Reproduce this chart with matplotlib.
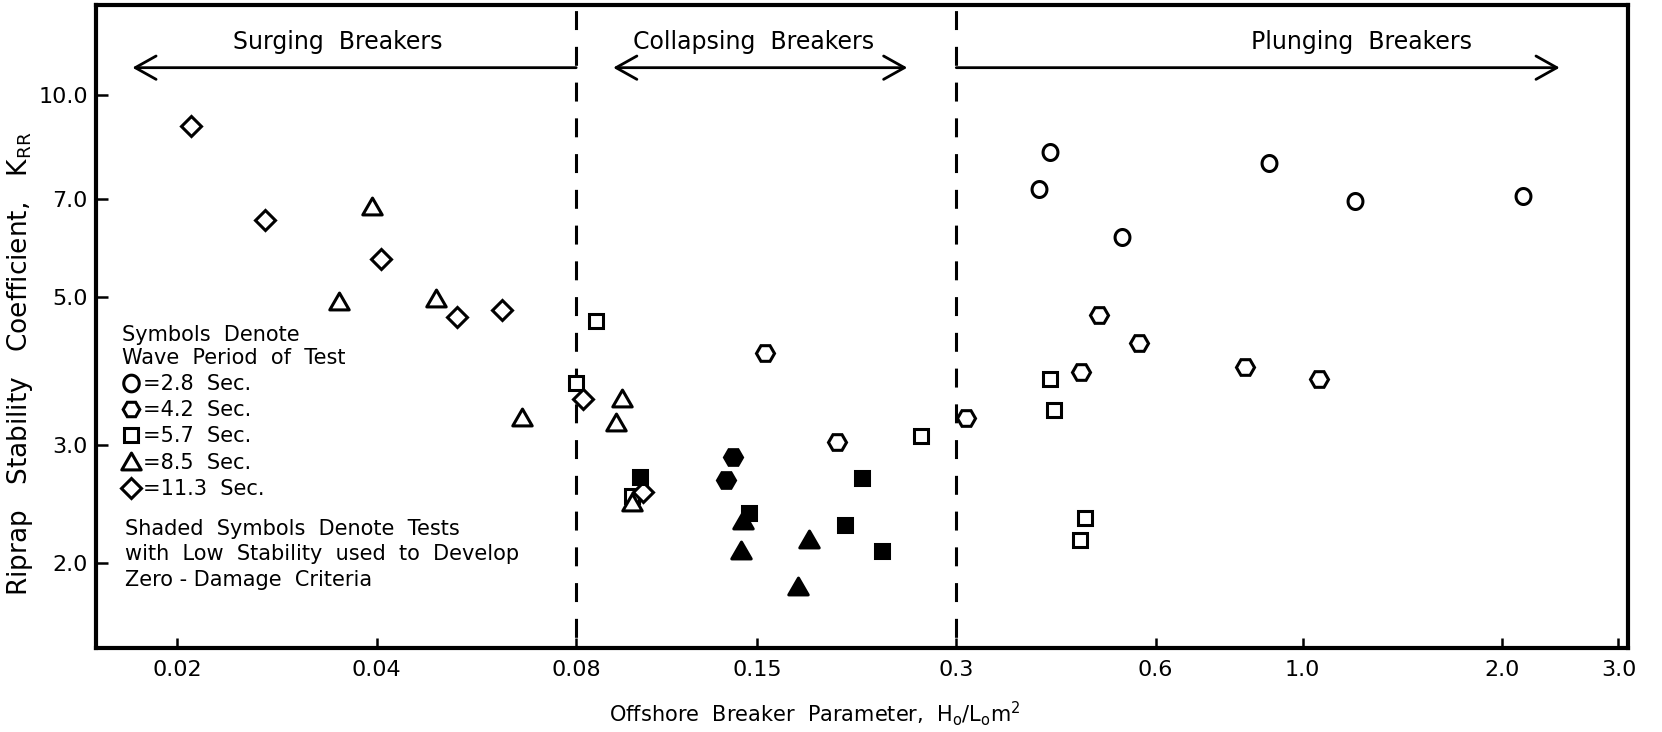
import numpy as np
import matplotlib.pyplot as plt
from matplotlib.path import Path
from matplotlib.lines import Line2D

plt.rcParams['font.family'] = 'DejaVu Sans'

# Riprap stability coefficient vs offshore breaker parameter, by wave period
# T = 2.8 s (ovals)
x_28 = [0.400, 0.415, 0.533, 0.890, 1.20, 2.15]
k_28 = [7.25, 8.24, 6.15, 7.92, 6.94, 7.07]

# T = 4.2 s (hexagons)
x_42 = [0.154, 0.198, 0.310, 0.463, 0.493, 0.566, 0.818, 1.06]
k_42 = [4.12, 3.03, 3.29, 3.86, 4.70, 4.27, 3.93, 3.76]
x_42_low = [0.1346, 0.138]
k_42_low = [2.66, 2.88]

# T = 5.7 s (squares)
x_57 = [0.080, 0.0858, 0.0972, 0.265, 0.416, 0.421, 0.462, 0.470]
k_57 = [3.72, 4.60, 2.52, 3.10, 3.77, 3.38, 2.16, 2.33]
x_57_low = [0.100, 0.146, 0.204, 0.216, 0.2315]
k_57_low = [2.69, 2.375, 2.28, 2.68, 2.08]

# T = 8.5 s (triangles)
x_85 = [0.0351, 0.0393, 0.0492, 0.0663, 0.0920, 0.0938, 0.0970]
k_85 = [4.93, 6.84, 4.98, 3.31, 3.25, 3.53, 2.47]
x_85_low = [0.1418, 0.1428, 0.173, 0.1795]
k_85_low = [2.09, 2.32, 1.846, 2.17]

# T = 11.3 s (diamonds)
x_113 = [0.0210, 0.0271, 0.0406, 0.0529, 0.0618, 0.0818, 0.101]
k_113 = [9.0, 6.50, 5.70, 4.66, 4.77, 3.52, 2.555]

x_ticks = [0.02, 0.04, 0.08, 0.15, 0.3, 0.6, 1.0, 2.0, 3.0]
x_ticklabels = ['0.02', '0.04', '0.08', '0.15', '0.3', '0.6', '1.0', '2.0', '3.0']
y_ticks = [2.0, 3.0, 5.0, 7.0, 10.0]
y_ticklabels = ['2.0', '3.0', '5.0', '7.0', '10.0']

# breaker type limits
limits = [0.08, 0.3]
region_names = ['Surging  Breakers', 'Collapsing  Breakers', 'Plunging  Breakers']
region_text_x = [0.0349, 0.148, 1.227]

# custom marker shapes
t = np.linspace(0, 2 * np.pi, 61)
oval = Path(np.column_stack([0.93 * np.cos(t), np.sin(t)]), closed=True)
tri = Path([(-1, -0.866), (1, -0.866), (0, 0.866), (-1, -0.866)], closed=True)

fig = plt.figure(figsize=(16.62, 7.32), dpi=100)
ax = fig.add_axes([0.0578, 0.1148, 0.9217, 0.8784])
ax.set_xscale('log')
ax.set_yscale('log')
ax.set_xlim(0.01507, 3.1)
ax.set_ylim(1.492, 13.65)

for b in limits:
    ax.axvline(b, color='black', lw=2.2, linestyle=(8.2, (6.2, 5.5)), zorder=1)

mew = 2.2
open_kw = dict(linestyle='none', mec='black', mfc='white', mew=mew, zorder=3)
low_kw = dict(linestyle='none', mec='black', mfc='black', mew=mew, zorder=4)

ax.plot(x_28, k_28, marker=oval, ms=11.5, **open_kw)
ax.plot(x_42, k_42, marker='H', ms=13, **open_kw)
ax.plot(x_57, k_57, marker='s', ms=10, **open_kw)
ax.plot(x_85, k_85, marker=tri, ms=14, **open_kw)
ax.plot(x_113, k_113, marker='D', ms=10, **open_kw)
ax.plot(x_42_low, k_42_low, marker='H', ms=13, **low_kw)
ax.plot(x_85_low, k_85_low, marker=tri, ms=14, **low_kw)
ax.plot(x_57_low, k_57_low, marker='s', ms=10, **low_kw)

# range arrows for each breaker type
arrow_y = 11.0
head = dict(lw=2.0, color='black', shrinkA=0, shrinkB=0, mutation_scale=20)
ax.annotate('', xy=(0.0171, arrow_y), xytext=(limits[0], arrow_y),
            arrowprops=dict(arrowstyle='->,head_length=0.75,head_width=0.42', **head))
ax.annotate('', xy=(0.253, arrow_y), xytext=(0.091, arrow_y),
            arrowprops=dict(arrowstyle='<->,head_length=0.75,head_width=0.42', **head))
ax.annotate('', xy=(2.445, arrow_y), xytext=(limits[1], arrow_y),
            arrowprops=dict(arrowstyle='->,head_length=0.75,head_width=0.42', **head))
for name, xt in zip(region_names, region_text_x):
    ax.text(xt, 12.0, name, ha='center', va='center', fontsize=17)

ax.set_xticks(x_ticks)
ax.set_xticklabels(x_ticklabels)
ax.set_yticks(y_ticks)
ax.set_yticklabels(y_ticklabels)
ax.xaxis.set_minor_locator(plt.NullLocator())
ax.yaxis.set_minor_locator(plt.NullLocator())
ax.tick_params(axis='x', direction='in', length=7, width=1.8, pad=9, labelsize=16)
ax.tick_params(axis='y', direction='in', length=8.5, width=1.8, pad=6, labelsize=16)
for s in ax.spines.values():
    s.set_linewidth(3)

ax.set_xlabel(r'Offshore  Breaker  Parameter,  H$_\mathregular{o}$/L$_\mathregular{o}$m$^\mathregular{2}$',
              fontsize=15)
ax.xaxis.set_label_coords(0.469, -0.080)
ax.set_ylabel(r'Riprap   Stability   Coefficient,   K$_\mathregular{RR}$', fontsize=19)
ax.yaxis.set_label_coords(-0.040, 0.442)

# key to the symbols
handles = [
    Line2D([], [], marker=oval, ms=12, linestyle='none', mec='black', mfc='white', mew=mew),
    Line2D([], [], marker='H', ms=12, linestyle='none', mec='black', mfc='white', mew=mew),
    Line2D([], [], marker='s', ms=10, linestyle='none', mec='black', mfc='white', mew=mew),
    Line2D([], [], marker=tri, ms=14, linestyle='none', mec='black', mfc='white', mew=mew),
    Line2D([], [], marker='D', ms=10, linestyle='none', mec='black', mfc='white', mew=mew),
]
labels = ['=2.8  Sec.', '=4.2  Sec.', '=5.7  Sec.', '=8.5  Sec.', '=11.3  Sec.']
leg = ax.legend(handles, labels, title='Symbols  Denote\nWave  Period  of  Test',
                loc='upper left', bbox_to_anchor=(0.017, 0.503), frameon=False,
                fontsize=15, title_fontsize=15, alignment='left', borderpad=0,
                borderaxespad=0, handlelength=0.9, handletextpad=0.1,
                labelspacing=0.3, markerscale=1.0)

ax.text(0.019, 0.1454,
        'Shaded  Symbols  Denote  Tests\nwith  Low  Stability  used  to  Develop\nZero - Damage  Criteria',
        transform=ax.transAxes, ha='left', va='center', fontsize=15, linespacing=1.32)

fig.savefig('out.png', dpi=100)
